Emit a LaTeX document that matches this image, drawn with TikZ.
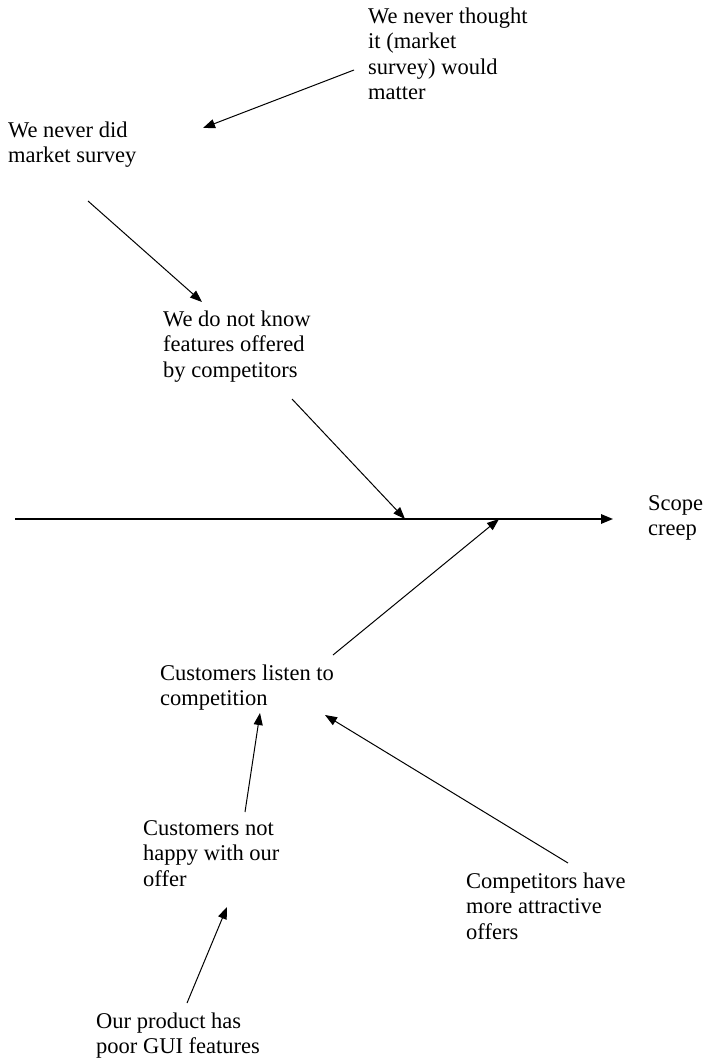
\documentclass[tikz,border=0pt]{standalone}
\usepackage{fontspec}
\setmainfont{Liberation Serif}
\usetikzlibrary{arrows.meta}

\tikzset{
  cause/.style={anchor=north west, inner sep=0pt, align=left,
                font=\fontsize{22.5}{25.5}\selectfont},
  link/.style={line width=1pt, -{Triangle[length=12pt,width=9pt]}},
  spine/.style={line width=1.5pt, -{Triangle[length=12pt,width=9.5pt]}},
}

\begin{document}
\begin{tikzpicture}[x=1pt, y=-1pt]
  \useasboundingbox (0,0) rectangle (705,1059);

  % cause texts
  \node[cause] (thought) at (368,5)   {\strut We never thought\\it (market\\survey) would\\matter};
  \node[cause] (survey)  at (8,119)   {\strut We never did\\market survey};
  \node[cause] (know)    at (163,308) {\strut We do not know\\features offered\\by competitors};
  \node[cause] (scope)   at (648,492) {\strut Scope\\creep};
  \node[cause] (listen)  at (160,662) {\strut Customers listen to\\competition};
  \node[cause] (happy)   at (143,817) {\strut Customers not\\happy with our\\offer};
  \node[cause] (offers)  at (466,870) {\strut Competitors have\\more attractive\\offers};
  \node[cause] (gui)     at (96,1010) {\strut Our product has\\poor GUI features};

  % arrow end points
  \coordinate (thought-out) at (354,70);
  \coordinate (survey-in)   at (203,128);
  \coordinate (survey-out)  at (88,201);
  \coordinate (know-in)     at (202,302);
  \coordinate (know-out)    at (292,399);
  \coordinate (spine-a)     at (405,519);
  \coordinate (spine-b)     at (499,519);
  \coordinate (spine-tail)  at (15,519);
  \coordinate (spine-head)  at (613,519);
  \coordinate (listen-out)  at (333,655);
  \coordinate (listen-in1)  at (260,713);
  \coordinate (listen-in2)  at (325,715);
  \coordinate (happy-out)   at (245,812);
  \coordinate (happy-in)    at (227,907);
  \coordinate (offers-out)  at (568,863);
  \coordinate (gui-out)     at (187,1003);

  % main spine
  \draw[spine] (spine-tail) -- (spine-head);

  % cause chains
  \draw[link] (thought-out) -- (survey-in);
  \draw[link] (survey-out) -- (know-in);
  \draw[link] (know-out) -- (spine-a);
  \draw[link] (listen-out) -- (spine-b);
  \draw[link] (happy-out) -- (listen-in1);
  \draw[link] (offers-out) -- (listen-in2);
  \draw[link] (gui-out) -- (happy-in);
\end{tikzpicture}
\end{document}
